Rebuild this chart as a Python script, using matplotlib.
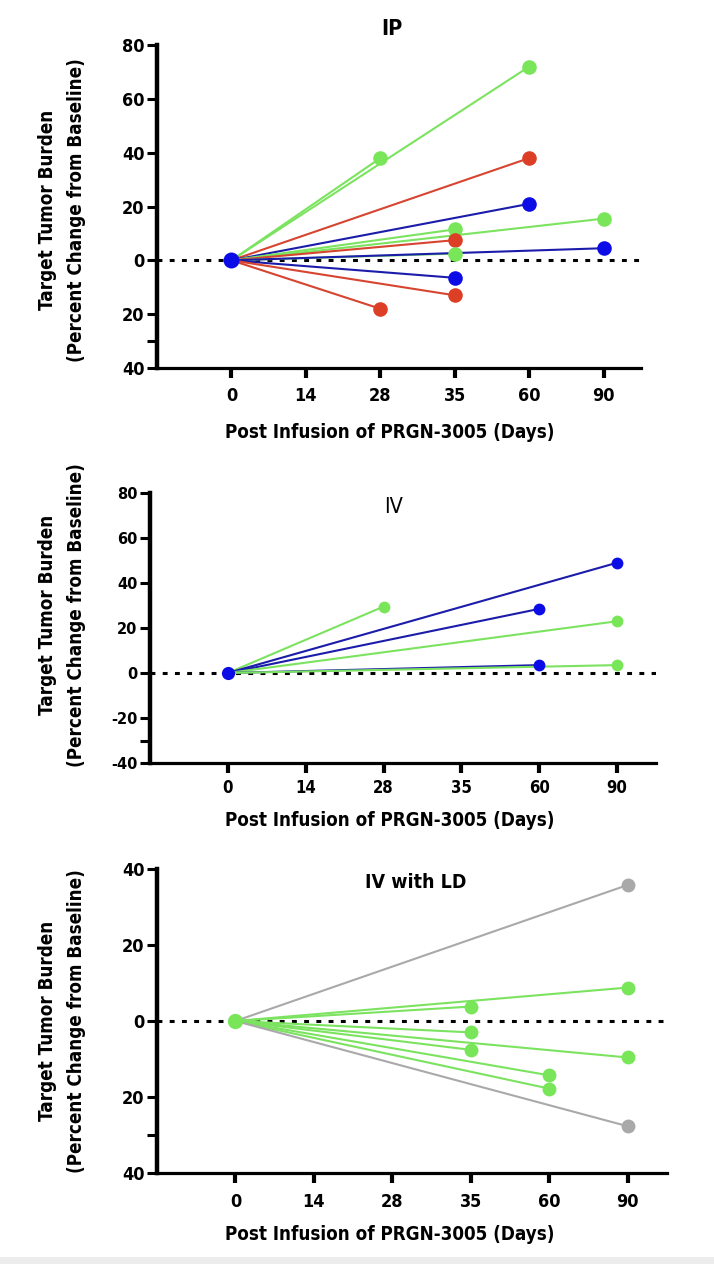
import matplotlib
matplotlib.use("Agg")
import matplotlib.pyplot as plt
from matplotlib.patches import Rectangle

# ---------------- data ----------------
day_categories = ["0", "14", "28", "35", "60", "90"]

# IP panel: each patient line from day 0 (value 0) to an end day
ip_end_days = ["28", "60", "60", "60", "90", "35", "35", "35", "90", "35", "35", "28"]
ip_end_values = [38, 72, 38, 21, 15.5, 11.5, 7.5, 2.5, 4.5, -6.5, -13, -18]
ip_groups = ["g", "g", "r", "b", "g", "g", "r", "g", "b", "b", "r", "r"]

# IV panel
iv_end_days = ["28", "90", "60", "90", "60", "90"]
iv_end_values = [29.5, 49, 28.5, 23, 3.5, 3.5]
iv_groups = ["g", "b", "b", "g", "b", "g"]

# IV with LD panel
ld_end_days = ["90", "90", "35", "35", "35", "90", "60", "60", "90"]
ld_end_values = [35.8, 8.8, 3.8, -3, -7.6, -9.6, -14.3, -17.8, -27.7]
ld_groups = ["k", "g", "g", "g", "g", "g", "g", "g", "k"]

line_colors = {"g": "#7be35f", "r": "#d6452f", "b": "#1c1caa", "k": "#a9a9a9"}
marker_colors = {"g": "#79e65a", "r": "#dc3f26", "b": "#0c0ce6", "k": "#a9a9a9"}

ylabel = "Target Tumor Burden\n(Percent Change from Baseline)"
xlabel = "Post Infusion of PRGN-3005 (Days)"

W, H = 714, 1264
fig = plt.figure(figsize=(W / 100, H / 100), dpi=100)
fig.add_artist(Rectangle((0, 0), 1, 7 / H, transform=fig.transFigure,
                         facecolor="#ececec", edgecolor="none"))

COND = dict(family="DejaVu Sans", fontstretch="condensed")


def make_axes(left, right, top, bottom):
    return fig.add_axes([left / W, 1 - bottom / H, (right - left) / W, (bottom - top) / H])


def draw_panel(ax, end_days, end_vals, groups, base_group, ylim, yticks, yticklabels,
               ytick_fs, xtick_fs, ms, base_ms, lw, xpad, ycond=True):
    xpos = {d: i for i, d in enumerate(day_categories)}
    ax.axhline(0, color="black", lw=2.2, ls=(0, (1.6, 2.4)), zorder=1)
    for d, v, g in zip(end_days, end_vals, groups):
        ax.plot([0, xpos[d]], [0, v], color=line_colors[g], lw=lw, zorder=2,
                solid_capstyle="round")
    for d, v, g in zip(end_days, end_vals, groups):
        ax.plot([xpos[d]], [v], "o", color=marker_colors[g], ms=ms, mec="none", zorder=3)
    ax.plot([0], [0], "o", color=marker_colors[base_group], ms=base_ms, mec="none", zorder=4)
    ax.set_xlim(-1, 5.5)
    ax.set_ylim(*ylim)
    ax.set_xticks(range(len(day_categories)))
    ax.set_xticklabels(day_categories, fontsize=xtick_fs, fontweight="bold", **COND)
    ax.set_yticks(yticks)
    if ycond:
        ax.set_yticklabels(yticklabels, fontsize=ytick_fs, fontweight="bold", **COND)
    else:
        ax.set_yticklabels(yticklabels, fontsize=ytick_fs, fontweight="bold")
    for s in ["top", "right"]:
        ax.spines[s].set_visible(False)
    ax.spines["left"].set_linewidth(3.2)
    ax.spines["bottom"].set_linewidth(2.3)
    ax.tick_params(axis="y", direction="out", length=7.5, width=2.2, pad=1.5)
    ax.tick_params(axis="x", direction="out", length=7, width=3.0, pad=xpad)
    ax.set_facecolor("none")


YL = dict(ha="center", va="center", rotation=90, fontsize=13.5, fontweight="bold",
          linespacing=1.7, **COND)

# Panel 1: IP
ax1 = make_axes(157, 641, 45, 368)
draw_panel(ax1, ip_end_days, ip_end_values, ip_groups, "b", (-40, 80),
           [80, 60, 40, 20, 0, -20, -30, -40], ["80", "60", "40", "20", "0", "20", "", "40"],
           13, 13, 10.5, 11.5, 1.5, 6.5)
fig.text(392 / W, 1 - 29 / H, "IP", ha="center", va="center", fontsize=15.5,
         fontweight="bold", **COND)
fig.text(390 / W, 1 - 433 / H, xlabel, ha="center", va="center", fontsize=13.5,
         fontweight="bold", **COND)
fig.text(62 / W, 1 - 210 / H, ylabel, **YL)

# Panel 2: IV
ax2 = make_axes(150, 656, 493, 763)
draw_panel(ax2, iv_end_days, iv_end_values, iv_groups, "b", (-40, 80),
           [80, 60, 40, 20, 0, -20, -30, -40], ["80", "60", "40", "20", "0", "-20", "", "-40"],
           10.5, 12, 8.5, 9.5, 1.5, 4.5, ycond=False)
fig.text(394 / W, 1 - 507 / H, "IV", ha="center", va="center", fontsize=15.5,
         fontweight="normal", **COND)
fig.text(390 / W, 1 - 820 / H, xlabel, ha="center", va="center", fontsize=13.5,
         fontweight="bold", **COND)
fig.text(62 / W, 1 - 615 / H, ylabel, **YL)

# Panel 3: IV with LD
ax3 = make_axes(157, 667, 869, 1173)
draw_panel(ax3, ld_end_days, ld_end_values, ld_groups, "g", (-40, 40),
           [40, 20, 0, -20, -30, -40], ["40", "20", "0", "20", "", "40"],
           13, 13, 10, 11, 1.5, 7.5)
fig.text(416 / W, 1 - 883 / H, "IV with LD", ha="center", va="center", fontsize=14,
         fontweight="bold", **COND)
fig.text(390 / W, 1 - 1235 / H, xlabel, ha="center", va="center", fontsize=13.5,
         fontweight="bold", **COND)
fig.text(62 / W, 1 - 1021 / H, ylabel, **YL)

fig.savefig("out.png", dpi=100, facecolor="white")
